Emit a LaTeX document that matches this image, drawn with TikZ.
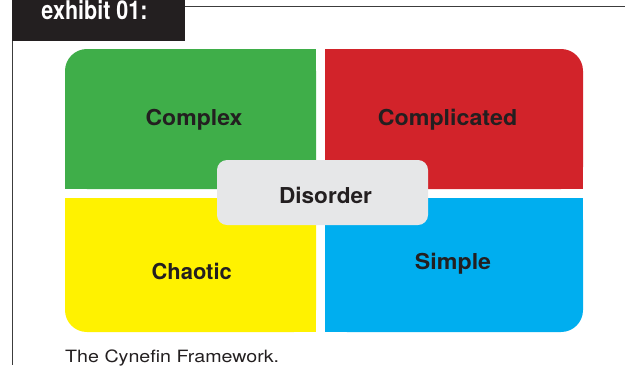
\documentclass[tikz,border=0pt]{standalone}
\usepackage{fontspec}
\setmainfont{TeX Gyre Heros}
\definecolor{cgreen}{HTML}{3FAE49}
\definecolor{cred}{HTML}{D2232A}
\definecolor{cyellow}{HTML}{FFF200}
\definecolor{cblue}{HTML}{00AEEF}
\definecolor{cgray}{HTML}{E6E7E8}
\definecolor{cink}{HTML}{231F20}
\definecolor{crule}{HTML}{3C3C3C}
\begin{document}
\begin{tikzpicture}[x=1bp,y=-1bp,
  label/.style={anchor=base,inner sep=0pt,text=cink,font=\fontsize{22}{26}\selectfont\bfseries},
  rulebar/.style={draw=crule,line width=1.2bp}]
\useasboundingbox (0,0) rectangle (625,365);
\clip (0,0) rectangle (625,365);

% header tab and frame rules
\fill[cink] (12,0) rectangle (185,41);
\node[anchor=base,inner sep=0pt,text=white,font=\fontsize{24}{28}\selectfont\bfseries] (tab) at (94.5,19.6) {\scalebox{0.9}[1.08]{exhibit 01:}};
\coordinate (topL) at (185,6.7);
\coordinate (topR) at (625,6.7);
\draw[rulebar] (topL) -- (topR);
\coordinate (sideT) at (12.5,41);
\coordinate (sideB) at (12.5,365);
\draw[rulebar,line width=1bp] (sideT) -- (sideB);

% four quadrants, outer corner rounded
\fill[cgreen,rounded corners=22] (65,49) rectangle (316,189);
\fill[cgreen] (87,49) rectangle (316,189);
\fill[cgreen] (65,71) rectangle (316,189);

\fill[cred,rounded corners=22] (325,49) rectangle (583,189);
\fill[cred] (325,49) rectangle (561,189);
\fill[cred] (325,71) rectangle (583,189);

\fill[cyellow,rounded corners=22] (65,198) rectangle (316,332);
\fill[cyellow] (87,198) rectangle (316,332);
\fill[cyellow] (65,198) rectangle (316,310);

\fill[cblue,rounded corners=22] (325,198) rectangle (583,332);
\fill[cblue] (325,198) rectangle (561,332);
\fill[cblue] (325,198) rectangle (583,310);

% centre box
\node[fill=cgray,rounded corners=10,minimum width=211bp,minimum height=65bp,inner sep=0pt] (disorderbox) at (322.5,192.5) {};

% labels
\node[label] (complex) at (194,125) {\scalebox{1.05}[1]{Complex}};
\node[label] (complicated) at (447.5,125.5) {\scalebox{1.06}[1]{Complicated}};
\node[label] (disorder) at (325.5,203) {\scalebox{1.03}[1]{Disorder}};
\node[label] (chaotic) at (191.7,279.5) {\scalebox{1.0}[1]{Chaotic}};
\node[label] (simple) at (453,269) {\scalebox{1.06}[1]{Simple}};

% caption
\node[anchor=base west,inner sep=0pt,text=cink,font=\fontsize{17}{20}\selectfont] (caption) at (65,362) {\scalebox{1.16}[1]{The Cynefin Framework.}};
\end{tikzpicture}
\end{document}
